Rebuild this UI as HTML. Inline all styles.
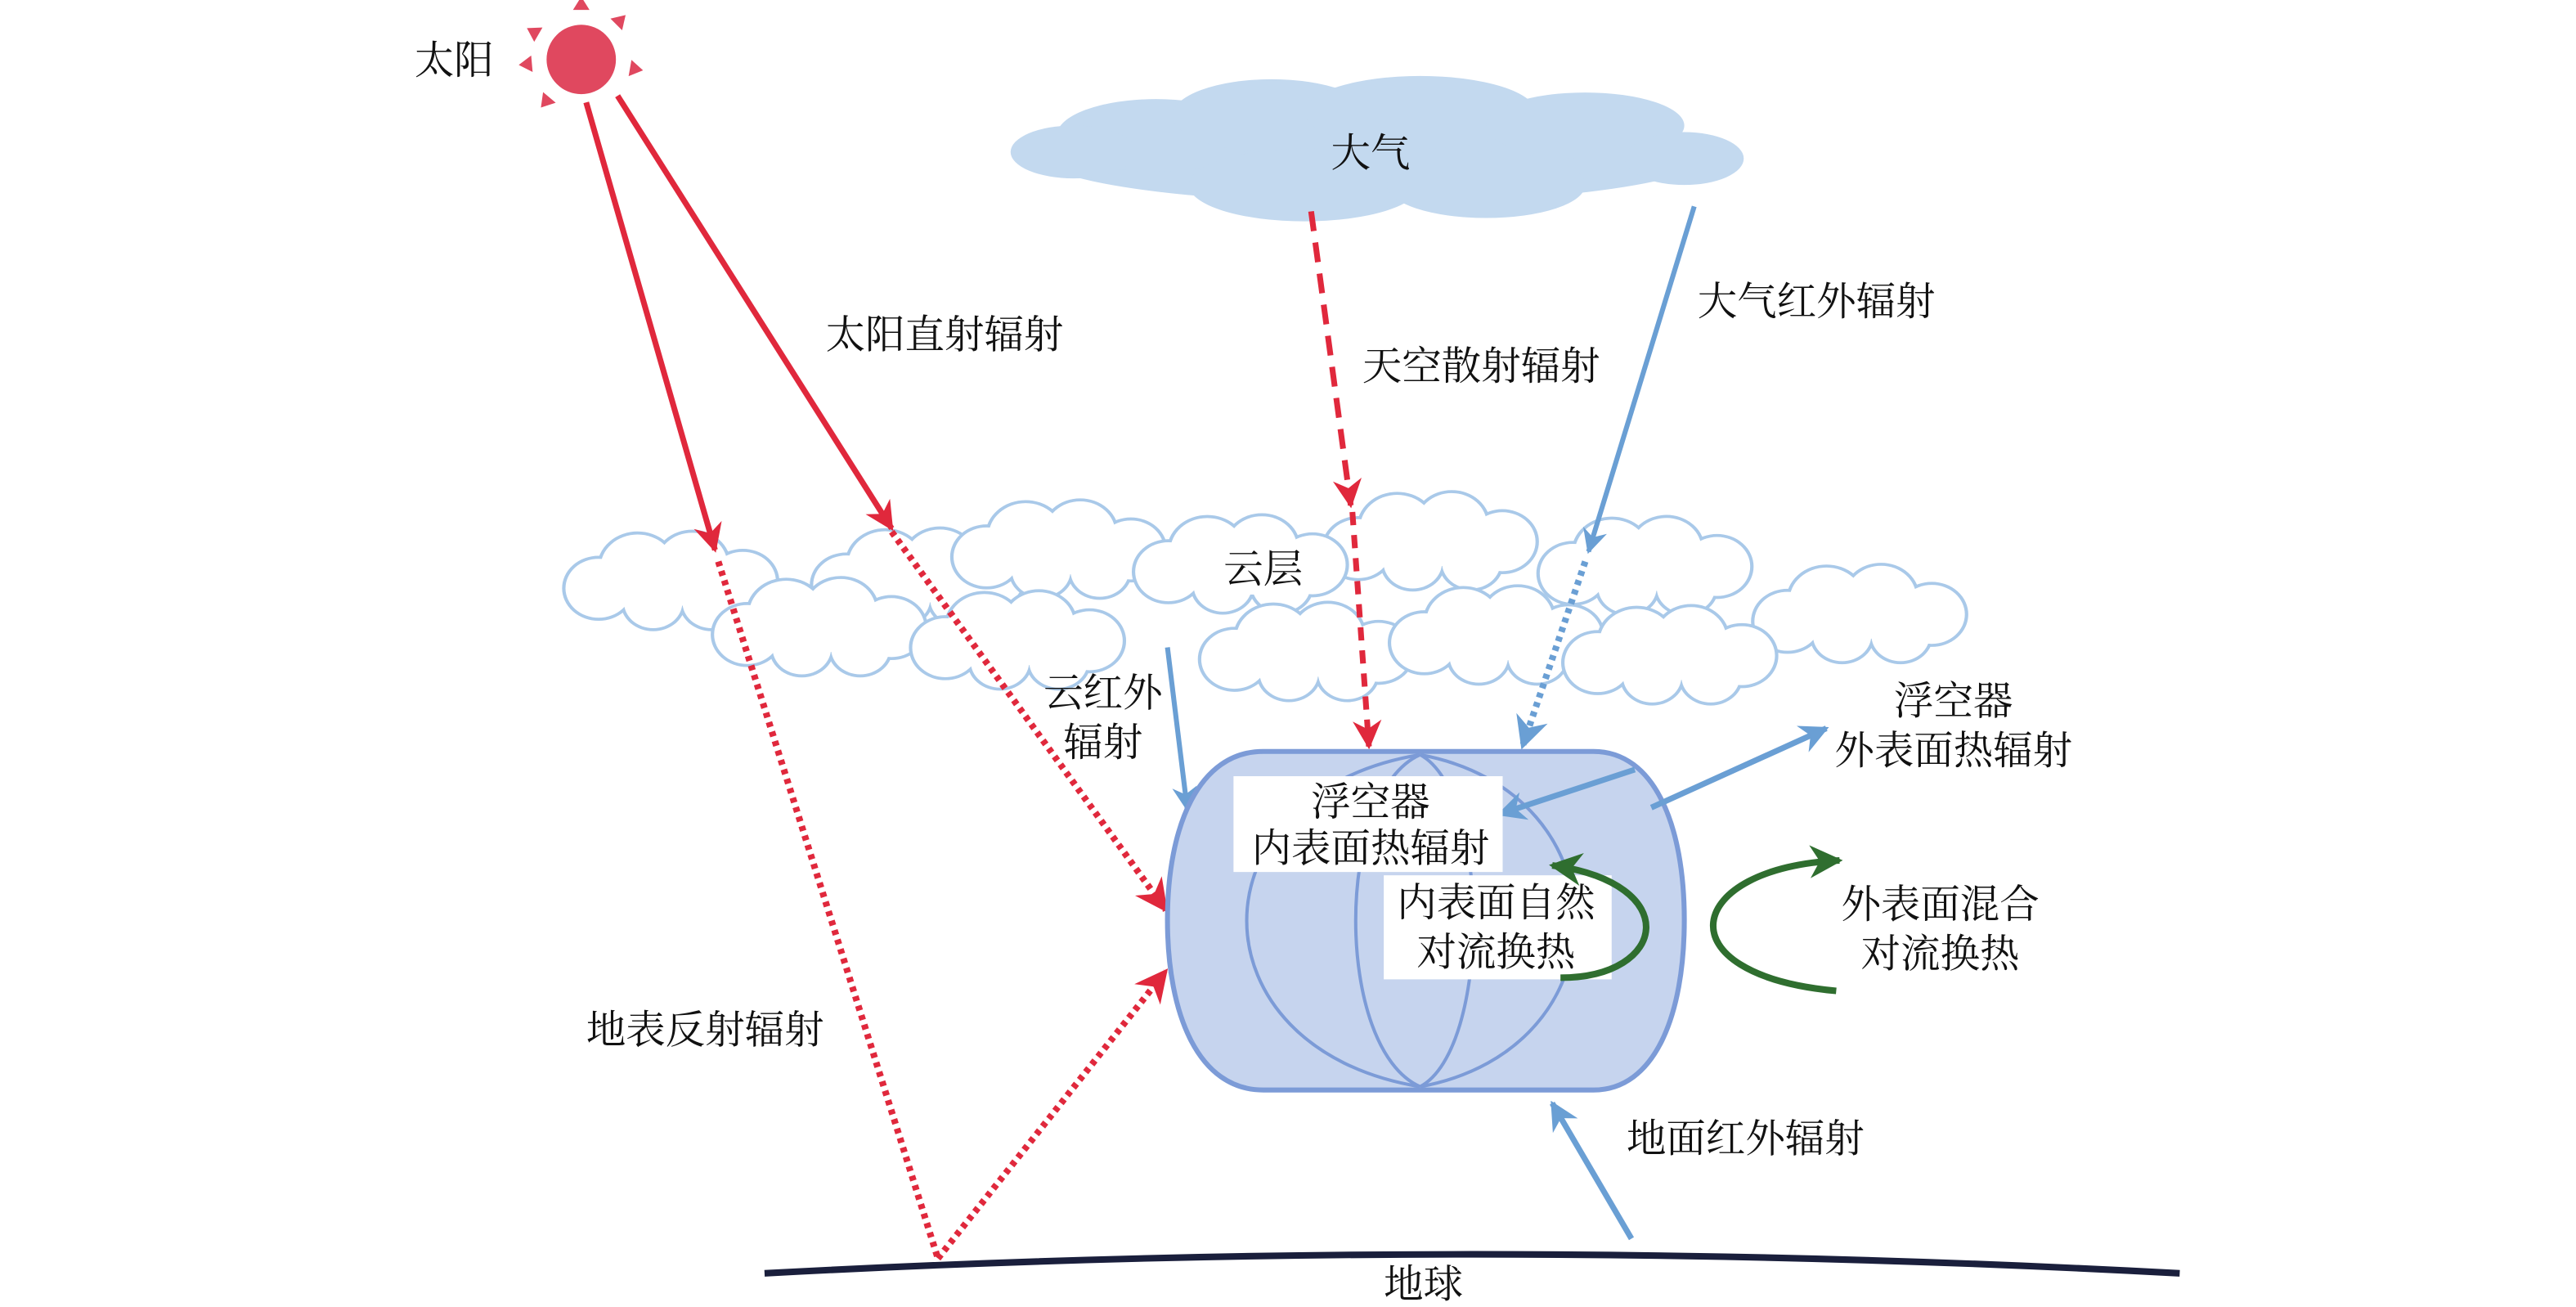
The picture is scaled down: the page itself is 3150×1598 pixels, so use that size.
<!DOCTYPE html>
<html><head><meta charset="utf-8"><style>
html,body{margin:0;padding:0;background:#fff;}
svg{display:block;}
text{font-family:"Liberation Serif","Noto Serif CJK SC","Noto Sans CJK SC",serif;font-size:24px;fill:#111;text-anchor:middle;dominant-baseline:central;}
</style></head><body>
<svg width="3150" height="1598" viewBox="0 0 1560 791.4" preserveAspectRatio="none" xmlns="http://www.w3.org/2000/svg">
<defs>
<marker id="ar" viewBox="0 0 10 10" refX="9" refY="5" markerWidth="5" markerHeight="5" orient="auto" markerUnits="strokeWidth"><path d="M0,0 L10,5 L0,10 L3,5 Z" fill="#e0283c"/></marker>
<marker id="ab" viewBox="0 0 10 10" refX="9" refY="5" markerWidth="5" markerHeight="5" orient="auto" markerUnits="strokeWidth"><path d="M0,0 L10,5 L0,10 L3,5 Z" fill="#6a9fd4"/></marker>
<marker id="ag" viewBox="0 0 10 10" refX="9" refY="5" markerWidth="5" markerHeight="5" orient="auto" markerUnits="strokeWidth"><path d="M0,0 L10,5 L0,10 L3,5 Z" fill="#2f6e2f"/></marker>
<g id="cl0">
<g fill="none" stroke="#a9c9e9" stroke-width="3.5">
<circle cx="-36" cy="4" r="17"/><circle cx="-16" cy="-8" r="19"/><circle cx="12" cy="-10" r="18"/><circle cx="38" cy="0" r="17"/><circle cx="22" cy="12" r="15"/><circle cx="-8" cy="12" r="15"/></g>
<g fill="#fff">
<circle cx="-36" cy="4" r="17"/><circle cx="-16" cy="-8" r="19"/><circle cx="12" cy="-10" r="18"/><circle cx="38" cy="0" r="17"/><circle cx="22" cy="12" r="15"/><circle cx="-8" cy="12" r="15"/><rect x="-36" y="-10" width="74" height="24"/></g>
</g>
<g id="cl"><use href="#cl0" transform="scale(1.18,1.05)"/></g>
</defs>

<!-- atmosphere cloud -->
<g fill="#c3d9ef">
<ellipse cx="832" cy="93" rx="205" ry="30"/>
<ellipse cx="700" cy="82" rx="60" ry="22"/><ellipse cx="770" cy="70" rx="60" ry="22"/><ellipse cx="860" cy="68" rx="70" ry="22"/><ellipse cx="960" cy="76" rx="60" ry="20"/>
<ellipse cx="790" cy="112" rx="70" ry="22"/><ellipse cx="900" cy="112" rx="60" ry="20"/><ellipse cx="650" cy="92" rx="38" ry="16"/><ellipse cx="1020" cy="96" rx="36" ry="16"/>
</g>
<text x="830" y="93">大气</text>

<!-- cloud layer -->
<use href="#cl" x="405" y="352"/>
<use href="#cl" x="555" y="350"/>
<use href="#cl" x="640" y="333"/>
<use href="#cl" x="865" y="328"/>
<use href="#cl" x="495" y="380"/>
<use href="#cl" x="615" y="388"/>
<use href="#cl" x="750" y="342"/>
<use href="#cl" x="995" y="343"/>
<use href="#cl" x="1125" y="372"/>
<use href="#cl" x="790" y="395"/>
<use href="#cl" x="905" y="385"/>
<use href="#cl" x="1010" y="397"/>
<rect x="740" y="330" width="50" height="30" fill="#fff"/>
<text x="765" y="345">云层</text>

<!-- sun -->
<g fill="#e0485f">
<circle cx="352" cy="36" r="21"/>
<g transform="translate(352,36)">
<path d="M-5,-30 L5,-30 L0,-38Z"/>
<path d="M-5,-30 L5,-30 L0,-38Z" transform="rotate(45)"/>
<path d="M-5,-30 L5,-30 L0,-38Z" transform="rotate(100)"/>
<path d="M-5,-30 L5,-30 L0,-38Z" transform="rotate(-60)"/>
<path d="M-5,-30 L5,-30 L0,-38Z" transform="rotate(-95)"/>
<path d="M-5,-30 L5,-30 L0,-38Z" transform="rotate(-140)"/>
</g>
</g>
<text x="275" y="37">太阳</text>

<!-- direct solar -->
<line x1="355" y1="62" x2="433" y2="333" stroke="#e0283c" stroke-width="3.5" marker-end="url(#ar)"/>
<line x1="435" y1="340" x2="568" y2="762" stroke="#e0283c" stroke-width="4" stroke-dasharray="3,3"/>
<line x1="374" y1="58" x2="540" y2="320" stroke="#e0283c" stroke-width="3.5" marker-end="url(#ar)"/>
<line x1="540" y1="322" x2="706" y2="551" stroke="#e0283c" stroke-width="4" stroke-dasharray="3,3" marker-end="url(#ar)"/>
<line x1="568" y1="762" x2="706" y2="588" stroke="#e0283c" stroke-width="4" stroke-dasharray="3,3" marker-end="url(#ar)"/>
<!-- sky diffuse -->
<line x1="794" y1="128" x2="818" y2="306" stroke="#e0283c" stroke-width="3.5" stroke-dasharray="12,7" marker-end="url(#ar)"/>
<line x1="819" y1="310" x2="829" y2="452" stroke="#e0283c" stroke-width="3.5" stroke-dasharray="8,6" marker-end="url(#ar)"/>
<!-- atmos IR -->
<line x1="1026" y1="125" x2="962" y2="334" stroke="#6a9fd4" stroke-width="3" marker-end="url(#ab)"/>
<line x1="960" y1="340" x2="922" y2="452" stroke="#6a9fd4" stroke-width="4" stroke-dasharray="3,3" marker-end="url(#ab)"/>
<!-- cloud IR -->
<line x1="707" y1="392" x2="719" y2="490" stroke="#6a9fd4" stroke-width="3" marker-end="url(#ab)"/>

<!-- balloon -->
<path d="M765,455 H965 C1002,455 1020,500 1020,557 C1020,615 1002,660 965,660 H765 C726,660 707,615 707,557 C707,500 726,455 765,455 Z" fill="#c6d4ee" stroke="#7c9bd7" stroke-width="3"/>
<g fill="none" stroke="#7c9bd7" stroke-width="2">
<path d="M860,457 C720,480 720,635 860,658"/><path d="M860,457 C808,480 808,635 860,658"/><path d="M860,457 C903,480 903,635 860,658"/><path d="M860,457 C985,480 985,635 860,658"/>
</g>

<!-- outer radiation / inner radiation arrows -->
<line x1="1000" y1="489" x2="1106" y2="441" stroke="#6a9fd4" stroke-width="3.5" marker-end="url(#ab)"/>
<line x1="990" y1="466" x2="908" y2="493" stroke="#6a9fd4" stroke-width="3.5" marker-end="url(#ab)"/>
<!-- ground IR -->
<line x1="988" y1="750" x2="940" y2="668" stroke="#6a9fd4" stroke-width="3.5" marker-end="url(#ab)"/>

<!-- labels in boxes -->
<rect x="747" y="470" width="163" height="58" fill="#fff"/>
<text x="830" y="486">浮空器</text>
<text x="830" y="514">内表面热辐射</text>
<rect x="838" y="530" width="138" height="63" fill="#fff"/>
<text x="906" y="547">内表面自然</text>
<text x="906" y="577">对流换热</text>

<!-- green arrows -->
<path d="M945,592 C1010,592 1020,535 940,524" fill="none" stroke="#2f6e2f" stroke-width="4" marker-end="url(#ag)"/>
<path d="M1112,600 C1005,590 1020,525 1114,521" fill="none" stroke="#2f6e2f" stroke-width="4" marker-end="url(#ag)"/>

<!-- earth -->
<path d="M463,771 Q892,748 1320,771" fill="none" stroke="#1a1f3c" stroke-width="4"/>

<text x="572" y="203">太阳直射辐射</text>
<text x="897" y="222">天空散射辐射</text>
<text x="1100" y="183">大气红外辐射</text>
<text x="668" y="420">云红外</text>
<text x="668" y="450">辐射</text>
<text x="1183" y="425">浮空器</text>
<text x="1183" y="455">外表面热辐射</text>
<text x="1175" y="548">外表面混合</text>
<text x="1175" y="578">对流换热</text>
<text x="427" y="624">地表反射辐射</text>
<text x="1057" y="690">地面红外辐射</text>
<text x="862" y="778">地球</text>
</svg>
</body></html>
